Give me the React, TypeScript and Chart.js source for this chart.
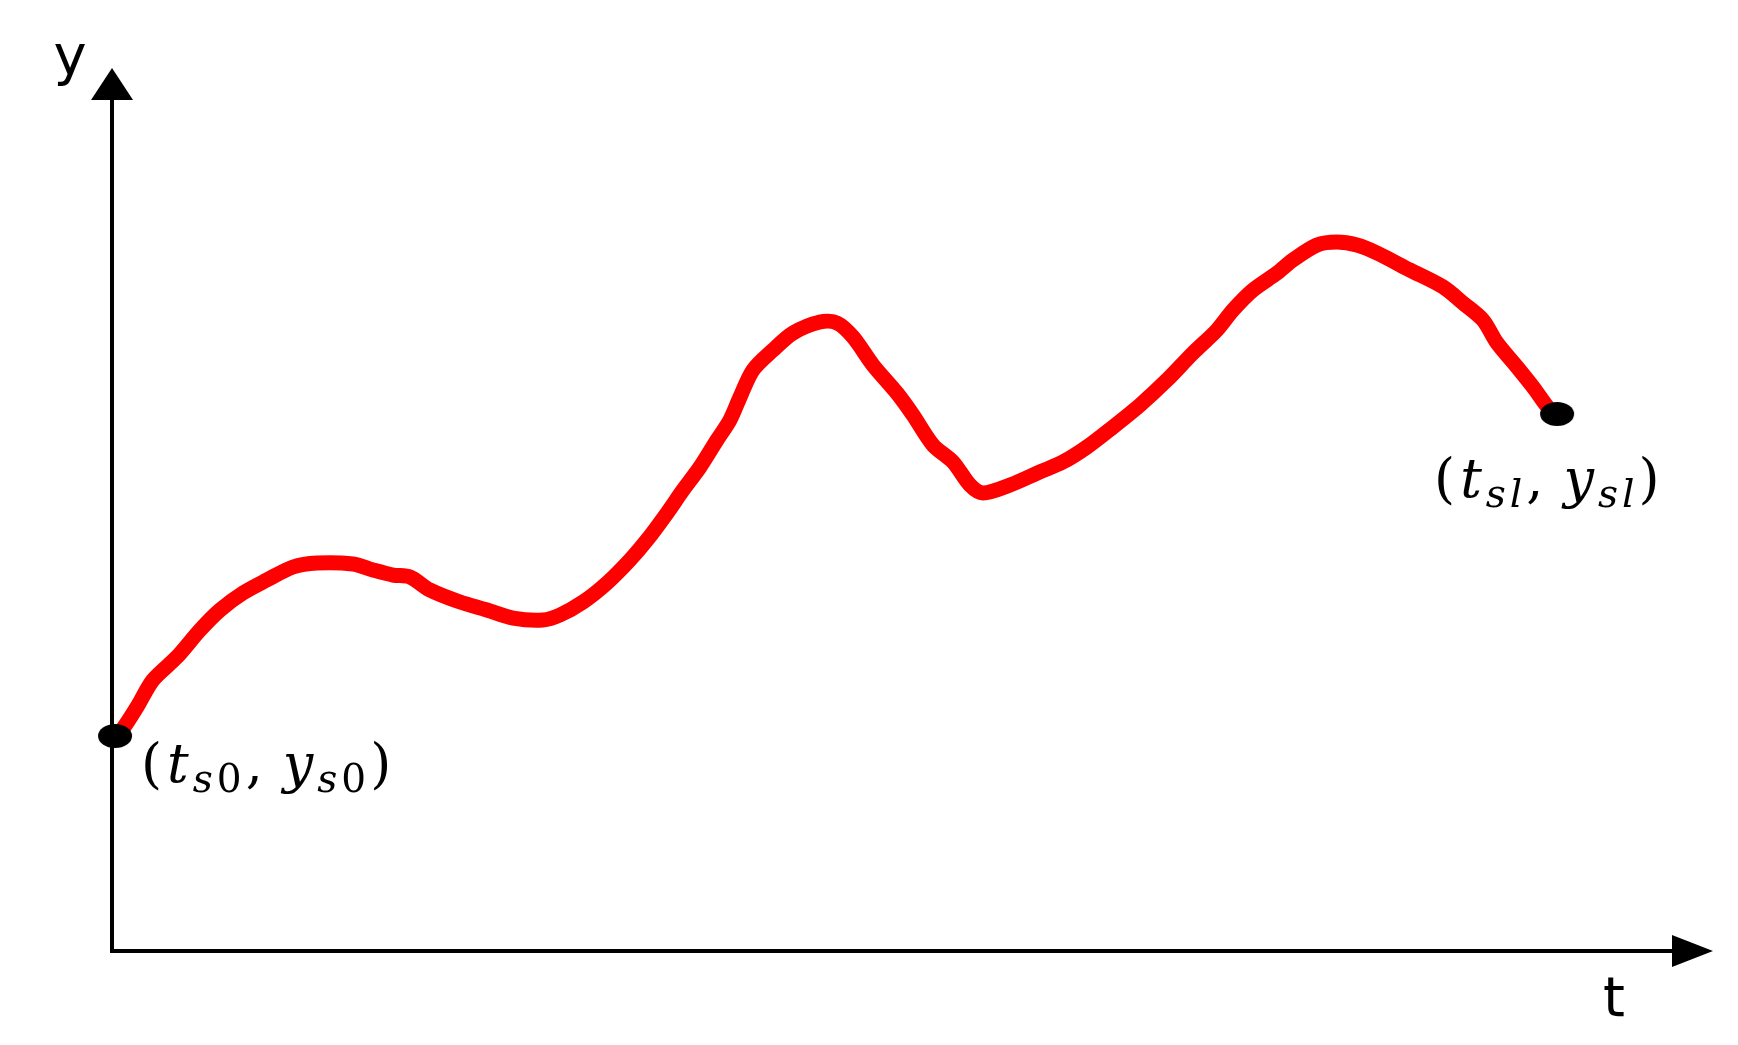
import React, { useEffect, useRef } from "react";
import { Chart, registerables } from "chart.js";

Chart.register(...registerables);

// Curve samples (t on the horizontal axis, y vertical), axis range 0..100
const tValues = [
  0.19, 0.62, 1.56, 2.56, 4.06, 5.5, 6.75, 8.18, 9.68, 11.31, 12.8, 15.05, 16.3, 17.55, 18.61,
  19.86, 21.74, 23.42, 25.05, 26.92, 27.98, 29.42, 30.92, 32.35, 33.42, 34.67, 35.67, 36.73,
  37.79, 38.6, 39.23, 40.04, 41.29, 42.54, 44.22, 45.28, 46.28, 47.53, 49.03, 50.03, 51.28,
  52.53, 53.59, 54.4, 56.09, 57.96, 59.4, 60.9, 62.52, 64.21, 65.9, 67.52, 69.02, 70.02, 71.27,
  72.77, 73.77, 75.27, 76.51, 77.76, 79.01, 81.07, 83.14, 84.38, 85.63, 86.51, 87.76, 88.76,
  89.82, 90.26,
];
const yValues = [
  24.35, 25.03, 27.63, 30.69, 33.3, 36.35, 38.62, 40.54, 42.02, 43.49, 43.94, 43.83, 43.15,
  42.58, 42.36, 40.88, 39.52, 38.62, 37.71, 37.49, 38.05, 39.52, 41.68, 44.28, 46.55, 49.6,
  52.21, 54.81, 57.87, 60.14, 62.74, 65.8, 68.06, 69.99, 71.23, 71.12, 69.54, 66.36, 63.19,
  60.7, 57.3, 55.38, 52.77, 51.87, 52.77, 54.25, 55.38, 57.08, 59.34, 61.83, 64.67, 67.72,
  70.33, 72.59, 74.86, 76.78, 78.26, 79.95, 80.29, 79.95, 79.05, 77.12, 75.2, 73.39, 71.46,
  68.86, 66.14, 63.87, 61.27, 60.82,
];
const axisLabels = ["t", "y"];
const startLabelSub = "0";
const endLabelSub = "l";

type Part = { text: string; italic?: boolean; sub?: boolean };

function makeParts(sub: string): Part[] {
  return [
    { text: "(" },
    { text: "t", italic: true },
    { text: "s", italic: true, sub: true },
    { text: sub, italic: sub !== "0", sub: true },
    { text: "," },
    { text: "y", italic: true },
    { text: "s", italic: true, sub: true },
    { text: sub, italic: sub !== "0", sub: true },
    { text: ")" },
  ];
}

function drawMath(ctx: CanvasRenderingContext2D, x: number, baseline: number, parts: Part[]) {
  let cx = x;
  for (const p of parts) {
    const size = p.sub ? 39 : 54;
    ctx.font = `${p.italic ? "italic " : ""}${size}px "DejaVu Serif"`;
    ctx.fillStyle = "#000";
    ctx.textBaseline = "alphabetic";
    ctx.textAlign = "left";
    ctx.fillText(p.text, cx, baseline + (p.sub ? 10 : 0));
    let gap = 4;
    if (p.text === ",") gap = 20;
    if (p.text === "(") gap = 5;
    cx += ctx.measureText(p.text).width + gap;
  }
}

function makeEllipse(): HTMLCanvasElement {
  const c = document.createElement("canvas");
  c.width = 36;
  c.height = 26;
  const g = c.getContext("2d")!;
  g.fillStyle = "#000";
  g.beginPath();
  g.ellipse(18, 13, 17, 12, 0, 0, Math.PI * 2);
  g.fill();
  return c;
}

const decorPlugin = {
  id: "decor",
  beforeDatasetsDraw(chart: any) {
    const ctx: CanvasRenderingContext2D = chart.ctx;
    const xs = chart.scales.x;
    const ys = chart.scales.y;
    const ox = xs.getPixelForValue(0);
    const oy = ys.getPixelForValue(0);
    const topY = ys.getPixelForValue(100);
    const rightX = xs.getPixelForValue(100);
    ctx.save();
    ctx.strokeStyle = "#000";
    ctx.fillStyle = "#000";
    ctx.lineWidth = 4;
    ctx.lineCap = "butt";
    ctx.beginPath();
    ctx.moveTo(ox, topY + 30);
    ctx.lineTo(ox, oy);
    ctx.lineTo(rightX - 40, oy);
    ctx.stroke();
    // arrow heads
    ctx.beginPath();
    ctx.moveTo(ox, topY);
    ctx.lineTo(ox - 21, topY + 32);
    ctx.lineTo(ox + 21, topY + 32);
    ctx.closePath();
    ctx.fill();
    ctx.beginPath();
    ctx.moveTo(rightX, oy);
    ctx.lineTo(rightX - 41, oy - 16);
    ctx.lineTo(rightX - 41, oy + 16);
    ctx.closePath();
    ctx.fill();
    // axis names
    ctx.font = '56px "DejaVu Sans"';
    ctx.textAlign = "center";
    ctx.textBaseline = "alphabetic";
    ctx.fillText(axisLabels[1], ox - 42, topY + 6);
    ctx.fillText(axisLabels[0], rightX - 99, oy + 65);
    ctx.restore();
  },
  afterDatasetsDraw(chart: any) {
    const ctx: CanvasRenderingContext2D = chart.ctx;
    const xs = chart.scales.x;
    const ys = chart.scales.y;
    const n = tValues.length - 1;
    const sx = xs.getPixelForValue(tValues[0]);
    const sy = ys.getPixelForValue(yValues[0]);
    const ex = xs.getPixelForValue(tValues[n]);
    const ey = ys.getPixelForValue(yValues[n]);
    ctx.save();
    drawMath(ctx, sx + 26, sy + 46, makeParts(startLabelSub));
    drawMath(ctx, ex - 123, ey + 83, makeParts(endLabelSub));
    ctx.restore();
  },
};

export default function App() {
  const ref = useRef<HTMLCanvasElement | null>(null);
  useEffect(() => {
    const canvas = ref.current!;
    const n = tValues.length - 1;
    const chart = new Chart(canvas, {
      type: "line",
      data: {
        datasets: [
          {
            label: "endpoints",
            data: [
              { x: tValues[0], y: yValues[0] },
              { x: tValues[n], y: yValues[n] },
            ],
            showLine: false,
            pointStyle: makeEllipse() as any,
            pointRadius: 14,
            borderWidth: 0,
            clip: false as any,
            order: 0,
          },
          {
            label: "curve",
            data: tValues.map((t, i) => ({ x: t, y: yValues[i] })),
            borderColor: "#ff0000",
            borderWidth: 15,
            borderCapStyle: "round",
            borderJoinStyle: "round",
            pointRadius: 0,
            tension: 0.3,
            cubicInterpolationMode: "default",
            fill: false,
            clip: false as any,
            order: 1,
          },
        ],
      },
      options: {
        responsive: false,
        animation: false,
        layout: { padding: { left: 112, right: 25, top: 68, bottom: 94 } },
        plugins: { legend: { display: false }, tooltip: { enabled: false }, title: { display: false } },
        scales: {
          x: { type: "linear", min: 0, max: 100, display: false },
          y: { type: "linear", min: 0, max: 100, display: false },
        },
      },
      plugins: [decorPlugin],
    });
    return () => chart.destroy();
  }, []);
  return (
    <div style={{ position: "fixed", left: 0, top: 0, width: 1738, height: 1045, background: "#fff" }}>
      <canvas ref={ref} width={1738} height={1045} style={{ display: "block" }} />
    </div>
  );
}
